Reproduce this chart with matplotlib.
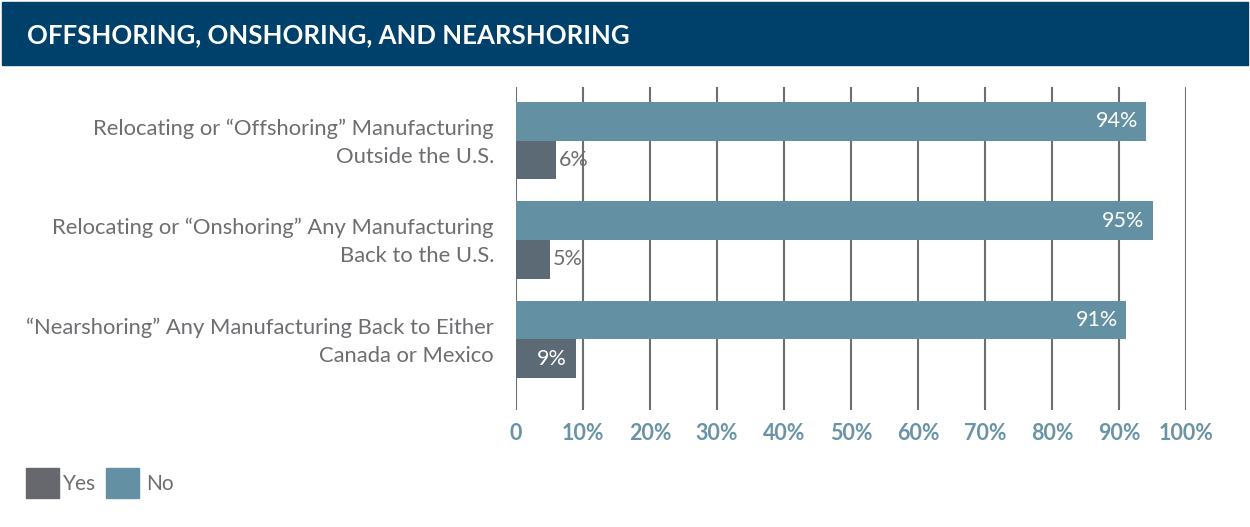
import matplotlib
matplotlib.use('Agg')
import matplotlib.pyplot as plt
import matplotlib.patches as mpatches

# survey results, % of respondents
categories = [
    'Relocating or \u201cOffshoring\u201d Manufacturing\nOutside the U.S.',
    'Relocating or \u201cOnshoring\u201d Any Manufacturing\nBack to the U.S.',
    '\u201cNearshoring\u201d Any Manufacturing Back to Either\nCanada or Mexico',
]
no_vals = [94, 95, 91]
yes_vals = [6, 5, 9]
ticks = list(range(0, 101, 10))
tick_labels = ['0'] + ['%d%%' % t for t in ticks[1:]]

NAVY = '#00416b'
NO_COLOR = '#6391a3'
YES_COLOR = '#5b6a74'
TEXT = '#6d6e71'
TICK = '#6a93a6'

plt.rcParams['font.family'] = ['Lato', 'DejaVu Sans']

W, H = 1250, 527
fig = plt.figure(figsize=(W / 100, H / 100), dpi=100)

# title banner
fig.patches.append(mpatches.Rectangle((2 / W, 1 - 65 / H), 1246 / W, 63 / H,
                                      transform=fig.transFigure, color=NAVY, zorder=0))
fig.text(27 / W, 1 - 35 / H, 'OFFSHORING, ONSHORING, AND NEARSHORING',
         color='white', fontsize=18.5, fontweight='bold', va='center', ha='left')

ax = fig.add_axes([516 / W, 1 - 410 / H, 670 / W, 323 / H])
bar_h = 0.39
ypos = list(range(len(categories)))
no_y = [y - bar_h / 2 for y in ypos]
yes_y = [y + bar_h / 2 for y in ypos]

ax.barh(no_y, no_vals, height=bar_h, color=NO_COLOR, zorder=3)
ax.barh(yes_y, yes_vals, height=bar_h, color=YES_COLOR, zorder=3)

for y, v in zip(no_y, no_vals):
    ax.annotate('%d%%' % v, xy=(v, y), xytext=(-8, 0), textcoords='offset pixels',
                ha='right', va='center', color='white', fontsize=15.5, zorder=4)
for y, v in zip(yes_y, yes_vals):
    if v >= 8:
        ax.annotate('%d%%' % v, xy=(v, y), xytext=(-10, 0), textcoords='offset pixels',
                    ha='right', va='center', color='white', fontsize=15.5, zorder=4)
    else:
        ax.annotate('%d%%' % v, xy=(v, y), xytext=(3, 0), textcoords='offset pixels',
                    ha='left', va='center', color=TEXT, fontsize=15.5, zorder=4)

for y, lab in zip(ypos, categories):
    ax.annotate(lab, xy=(0, y), xytext=(-22, -2), textcoords='offset pixels',
                ha='right', va='center', color=TEXT, fontsize=15.8, linespacing=1.5)

ax.set_xlim(0, 100)
ax.set_ylim(2.71, -0.54)
ax.set_xticks(ticks)
ax.set_xticklabels(tick_labels, fontweight='bold', color=TICK, fontsize=15.5)
ax.set_yticks([])
ax.tick_params(axis='x', length=0, pad=9)
ax.grid(axis='x', color='#6e6e6e', linewidth=1.5, zorder=0)
for s in ax.spines.values():
    s.set_visible(False)

# legend
fig.patches.append(mpatches.Rectangle((26 / W, 1 - 498 / H), 33 / W, 30 / H,
                                      transform=fig.transFigure, color='#67686d'))
fig.text(63 / W, 1 - 484 / H, 'Yes', color=TEXT, fontsize=15, va='center')
fig.patches.append(mpatches.Rectangle((106 / W, 1 - 498 / H), 33 / W, 30 / H,
                                      transform=fig.transFigure, color=NO_COLOR))
fig.text(146 / W, 1 - 484 / H, 'No', color=TEXT, fontsize=15, va='center')

fig.savefig('out.png', dpi=100, facecolor='white')
